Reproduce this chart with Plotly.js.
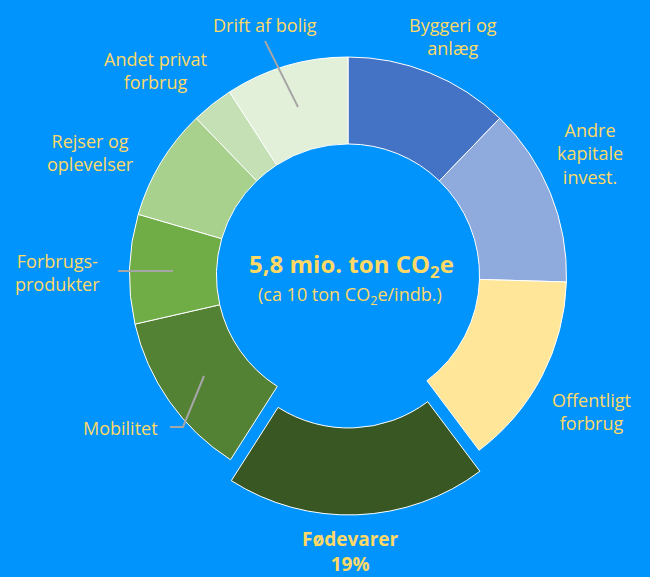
<!DOCTYPE html>
<html>
<head>
<meta charset="utf-8">
<script src="https://cdn.plot.ly/plotly-3.0.1.min.js"></script>
<style>html,body{margin:0;padding:0;background:#0094fc;}#chart{width:650px;height:577px;}</style>
</head>
<body>
<div id="chart"></div>
<script>
// Data (mio. ton CO2e), clockwise from 12 o'clock
const categories = ["Byggeri og anlæg", "Andre kapitale invest.", "Offentligt forbrug", "Fødevarer", "Mobilitet", "Forbrugsprodukter", "Rejser og oplevelser", "Andet privat forbrug", "Drift af bolig"];
const values = [0.71, 0.77, 0.83, 1.12, 0.72, 0.47, 0.48, 0.18, 0.53];
const colors = ["#4472C4", "#8FAADC", "#FFE699", "#385723", "#548235", "#70AD47", "#A9D18E", "#C5E0B4", "#E2F0D9"];
const pulls = [0, 0, 0, 0.096, 0, 0, 0, 0, 0];
const labelTexts = ["Byggeri og<br>anlæg", "Andre<br>kapitale<br>invest.", "Offentligt<br>forbrug", "<b>Fødevarer<br>19%</b>", "Mobilitet", "Forbrugs-<br>produkter", "Rejser og<br>oplevelser", "Andet privat<br>forbrug", "Drift af bolig"];
const centerTitle = "<b>5,8 mio. ton CO<sub>2</sub>e</b>";
const centerSub = "(ca 10 ton CO<sub>2</sub>e/indb.)";

const W = 650, H = 577;
const px = x => x / W, py = y => 1 - y / H;
const yellow = "#FFD966";
const font = "Open Sans, sans-serif";

// label positions (pixel centres)
const labelPos = [[453, 36], [590, 153], [591, 411], [350, 551], [121, 428], [58, 272], [90, 152], [155, 71], [265, 25]];
const labelSize = [18, 18, 18, 19, 18, 18, 18, 18, 18];

const annotations = categories.map((c, i) => ({
  text: labelTexts[i], x: px(labelPos[i][0]), y: py(labelPos[i][1]), xref: 'paper', yref: 'paper',
  showarrow: false, xanchor: 'center', yanchor: 'middle', align: 'center',
  font: {family: font, size: labelSize[i], color: yellow}
}));
annotations.push({text: centerTitle, x: px(351), y: py(265), xref: 'paper', yref: 'paper', showarrow: false,
  xanchor: 'center', yanchor: 'middle', font: {family: font, size: 24, color: yellow}});
annotations.push({text: centerSub, x: px(350), y: py(295), xref: 'paper', yref: 'paper', showarrow: false,
  xanchor: 'center', yanchor: 'middle', font: {family: font, size: 18, color: yellow}});

const lineStyle = {color: '#A6A6A6', width: 2};
const shapes = [
  {type: 'line', xref: 'paper', yref: 'paper', x0: px(265), y0: py(41), x1: px(298), y1: py(107), line: lineStyle},
  {type: 'line', xref: 'paper', yref: 'paper', x0: px(118), y0: py(271), x1: px(173), y1: py(271), line: lineStyle},
  {type: 'path', xref: 'paper', yref: 'paper',
   path: `M ${px(170)} ${py(427)} L ${px(183)} ${py(427)} L ${px(204)} ${py(376)}`, line: lineStyle}
];

const R = 218.5, cx = 348, cy = 275.5, maxPull = 0.096;
const half = R * (1 + maxPull);

const trace = {
  type: 'pie', labels: categories, values: values, sort: false, direction: 'clockwise', rotation: 0,
  hole: 0.602, pull: pulls, textinfo: 'none', hoverinfo: 'label+value',
  marker: {colors: colors, line: {color: '#FFFFFF', width: 1}},
  domain: {x: [px(cx - half), px(cx + half)], y: [py(cy + half), py(cy - half)]},
  showlegend: false
};

Plotly.newPlot('chart', [trace], {
  width: W, height: H, margin: {l: 0, r: 0, t: 0, b: 0},
  paper_bgcolor: '#0094fc', plot_bgcolor: '#0094fc',
  annotations: annotations, shapes: shapes, showlegend: false
}, {displayModeBar: false, staticPlot: true});
</script>
</body>
</html>
